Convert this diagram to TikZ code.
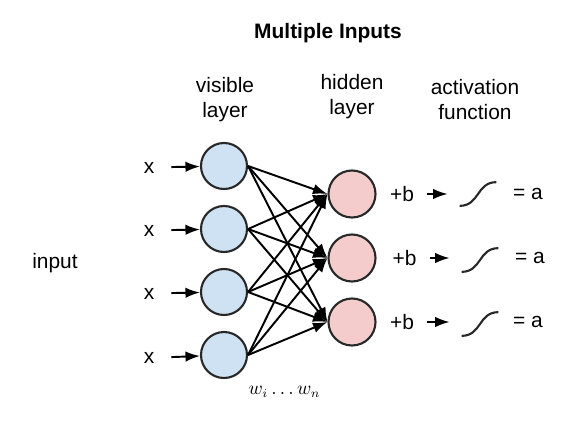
\documentclass[tikz,border=0pt]{standalone}
\usepackage{fontspec}
\setmainfont{Liberation Sans}
\usetikzlibrary{arrows.meta}
\definecolor{vblue}{RGB}{207,226,243}
\definecolor{hpink}{RGB}{244,204,204}
\definecolor{ink}{RGB}{40,40,40}

\begin{document}
\begin{tikzpicture}[
		font=\fontsize{11.9}{14.2}\selectfont,
		visible/.style={circle, draw=ink, line width=1.2pt, fill=vblue, minimum size=0.92cm, inner sep=0pt},
		hidden/.style={circle, draw=ink, line width=1.2pt, fill=hpink, minimum size=0.94cm, inner sep=0pt},
		arr/.style={-{Latex[length=2.9mm,width=2.1mm]}, line width=1.1pt, draw=black},
		label/.style={inner sep=1pt},
		sig/.style={minimum width=0.72cm, minimum height=0.46cm, inner sep=0pt}
	]
	\useasboundingbox (0,0) rectangle (11.5,8.42);

				%%headings
				\node[font=\bfseries\fontsize{11.9}{14.2}\selectfont] (title) at (6.56, 7.76) {Multiple Inputs};
				\node[align=center] (vishead) at (4.5, 6.43) {visible\\layer};
				\node[align=center] (hidhead) at (7.04, 6.49) {hidden\\layer};
				\node[align=center] (acthead) at (9.5, 6.43) {activation\\function};

				\node (input) at (1.1, 3.16) {input};

				%%visible layer
				\node[visible] (v1) at (4.48, 5.10) {};
				\node[visible] (v2) at (4.48, 3.84) {};
				\node[visible] (v3) at (4.48, 2.58) {};
				\node[visible] (v4) at (4.48, 1.32) {};

				\node[label] (in1) at (2.98, 5.07) {x};
				\node[label] (in2) at (2.98, 3.81) {x};
				\node[label] (in3) at (2.98, 2.55) {x};
				\node[label] (in4) at (2.98, 1.26) {x};

				\draw[arr, shorten <=0.3cm] (in1) -- (v1);
				\draw[arr, shorten <=0.3cm] (in2) -- (v2);
				\draw[arr, shorten <=0.3cm] (in3) -- (v3);
				\draw[arr, shorten <=0.3cm] (in4) -- (v4);

				%%hidden layer
				\node[hidden] (h1) at (7.04, 4.54) {};
				\node[hidden] (h2) at (7.04, 3.26) {};
				\node[hidden] (h3) at (7.04, 1.98) {};

				%%weights, every visible node to every hidden node
				\draw (v1.east) edge[arr] (h1.west) edge[arr] (h2.west) edge[arr] (h3.west);
				\draw (v2.east) edge[arr] (h1.west) edge[arr] (h2.west) edge[arr] (h3.west);
				\draw (v3.east) edge[arr] (h1.west) edge[arr] (h2.west) edge[arr] (h3.west);
				\draw (v4.east) edge[arr] (h1.west) edge[arr] (h2.west) edge[arr] (h3.west);

				\node[font=\fontsize{10.5}{12}\selectfont] (w) at (5.69, 0.58) {$w_i \ldots w_n$};

				%%bias, activation and output
				\node[label] (b1) at (8.04, 4.54) {+b};
				\node[label] (b2) at (8.09, 3.26) {+b};
				\node[label] (b3) at (8.04, 1.98) {+b};

				\node[sig] (s1) at (9.56, 4.54) {};
				\node[sig] (s2) at (9.6, 3.22) {};
				\node[sig] (s3) at (9.6, 1.94) {};
				\draw[line width=1.2pt, ink] (s1.south west) .. controls +(0.4, 0) and +(-0.4, 0) .. (s1.north east);
				\draw[line width=1.2pt, ink] (s2.south west) .. controls +(0.4, 0) and +(-0.4, 0) .. (s2.north east);
				\draw[line width=1.2pt, ink] (s3.south west) .. controls +(0.4, 0) and +(-0.4, 0) .. (s3.north east);

				\draw[arr, shorten <=0.22cm, shorten >=0.24cm] (b1) -- (s1);
				\draw[arr, shorten <=0.22cm, shorten >=0.24cm] (b2) -- (s2.west |- b2);
				\draw[arr, shorten <=0.22cm, shorten >=0.24cm] (b3) -- (s3.west |- b3);

				\node (a1) at (10.56, 4.54) {= a};
				\node (a2) at (10.6, 3.26) {= a};
				\node (a3) at (10.56, 1.98) {= a};
\end{tikzpicture}
\end{document}
